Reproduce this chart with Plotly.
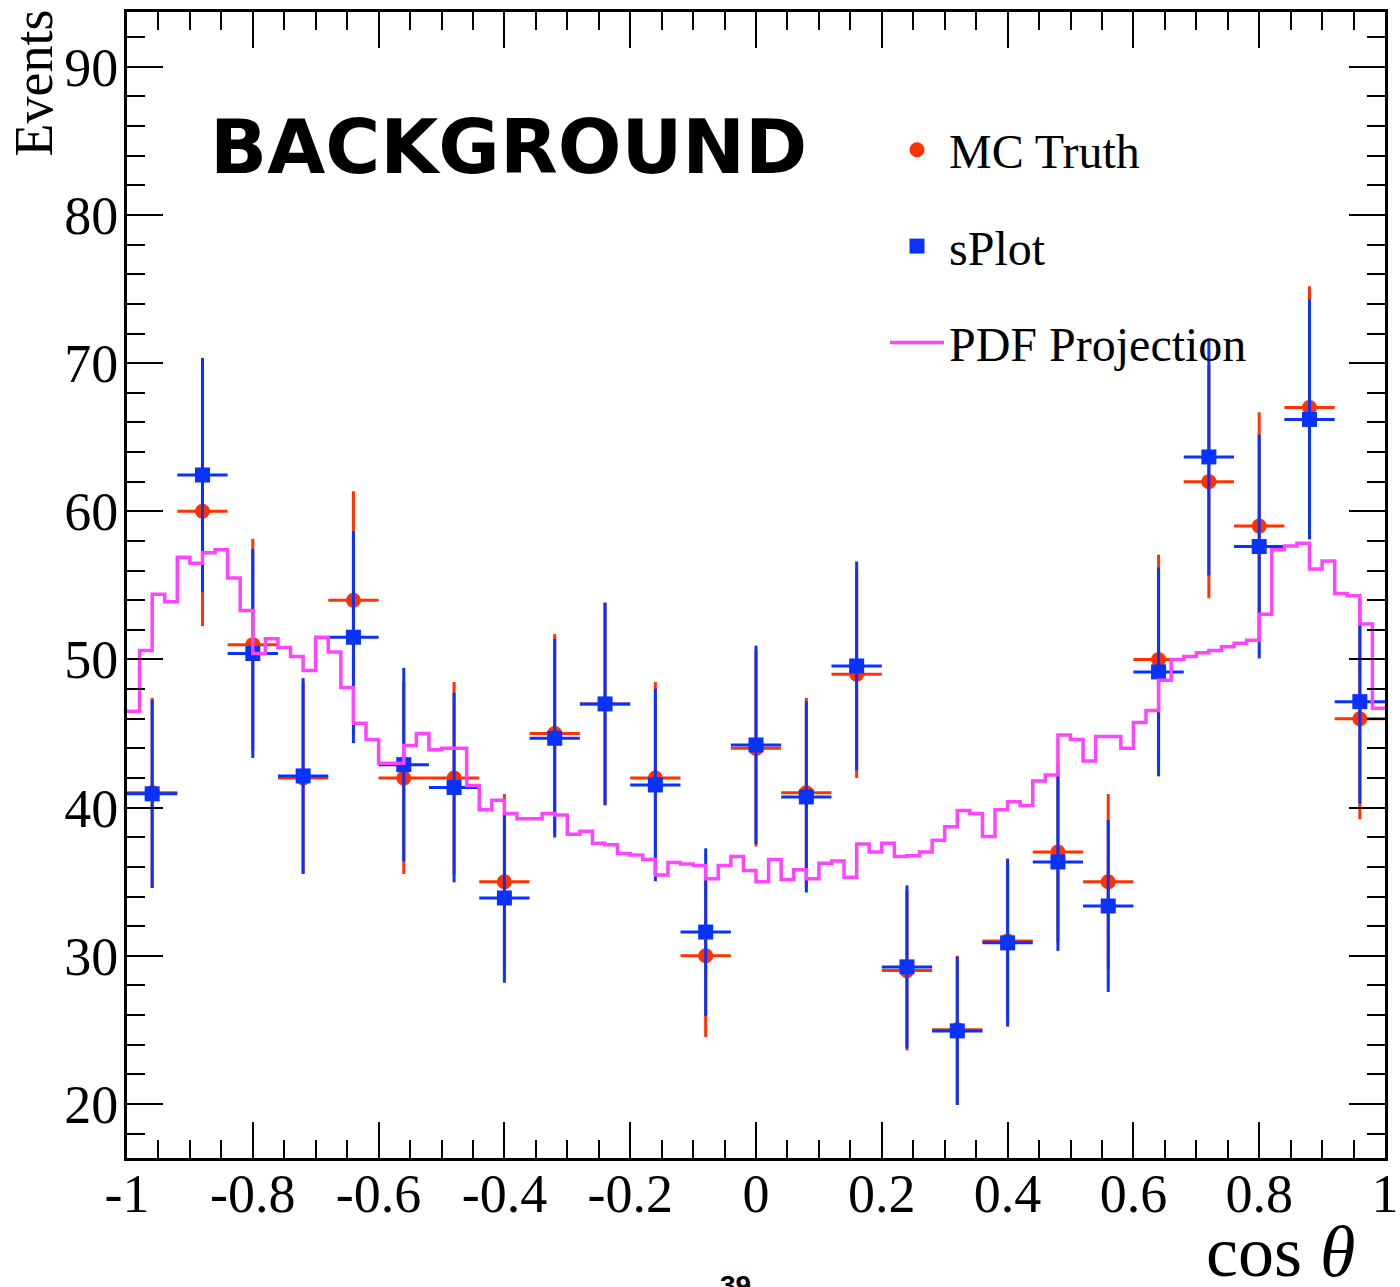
import numpy as np
import plotly.graph_objects as go

# ---------------- data ----------------
bin_centers = [-0.96, -0.88, -0.80, -0.72, -0.64, -0.56, -0.48, -0.40, -0.32,
               -0.24, -0.16, -0.08, 0.00, 0.08, 0.16, 0.24, 0.32, 0.40, 0.48,
               0.56, 0.64, 0.72, 0.80, 0.88, 0.96]
bin_half_width = 0.04

mc_truth = [41, 60, 51, 42, 54, 42, 42, 35, 45, 47, 42, 30, 44, 41, 49, 29,
            25, 31, 37, 35, 50, 62, 59, 67, 46]
mc_truth_err = [6.40, 7.75, 7.14, 6.48, 7.35, 6.48, 6.48, 5.92, 6.71, 6.86,
                6.48, 5.48, 6.63, 6.40, 7.00, 5.39, 5.00, 5.57, 6.08, 5.92,
                7.07, 7.87, 7.68, 8.19, 6.78]

splot = [40.93, 62.45, 50.40, 42.14, 51.50, 42.90, 41.36, 33.90, 44.68, 47.00,
         41.53, 31.60, 44.23, 40.72, 49.56, 29.25, 24.93, 30.87, 36.33, 33.36,
         49.16, 63.67, 57.62, 66.20, 47.15]
splot_err = [6.35, 7.90, 7.05, 6.60, 7.15, 6.53, 6.40, 5.72, 6.70, 6.80,
             6.50, 5.65, 6.70, 6.45, 7.05, 5.50, 5.00, 5.65, 6.00, 5.80,
             7.05, 8.00, 7.55, 8.10, 6.90]

pdf_range = (-1.0, 1.0)
pdf_projection = [
    46.5, 50.6, 54.4, 53.9, 56.9, 56.5, 57.2, 57.4, 55.5, 53.3,
    50.4, 51.4, 50.8, 50.2, 49.25, 51.5, 50.5, 48.1, 45.7, 44.6,
    43.0, 43.0, 44.2, 45.0, 43.9, 44.0, 44.0, 41.5, 39.85, 40.5,
    39.6, 39.25, 39.25, 39.6, 39.5, 38.2, 38.4, 37.6, 37.5, 36.9,
    36.8, 36.5, 35.45, 36.3, 36.2, 36.1, 35.2, 36.1, 36.7, 35.75,
    35.0, 36.5, 35.15, 35.8, 35.2, 36.25, 36.4, 35.3, 37.55, 37.0,
    37.6, 36.7, 36.75, 37.0, 37.8, 38.7, 39.8, 39.6, 38.05, 39.85,
    40.4, 40.15, 41.8, 42.2, 44.9, 44.6, 43.15, 44.8, 44.8, 44.0,
    45.75, 46.55, 48.6, 50.0, 50.2, 50.45, 50.6, 50.85, 51.1, 51.3,
    53.05, 57.4, 57.65, 57.85, 56.1, 56.65, 54.45, 54.3, 52.4, 46.7]

x_tick_vals = [-1, -0.8, -0.6, -0.4, -0.2, 0, 0.2, 0.4, 0.6, 0.8, 1]
x_tick_text = ["-1", "-0.8", "-0.6", "-0.4", "-0.2", "0", "0.2", "0.4",
               "0.6", "0.8", "1"]
y_tick_vals = [20, 30, 40, 50, 60, 70, 80, 90]
y_tick_text = ["20", "30", "40", "50", "60", "70", "80", "90"]

# ---------------- style ----------------
RED = "#ff3300"
BLUE = "#0a32ff"
PINK = "#ff44ff"
SERIF = "Liberation Serif"

fig = go.Figure()

fig.add_trace(go.Scatter(
    x=bin_centers, y=mc_truth, mode="markers", name="MC Truth",
    legendgroup="g1",
    marker=dict(symbol="circle", size=15, color=RED, line=dict(width=0)),
    error_y=dict(type="data", array=mc_truth_err, color=RED, thickness=3, width=0),
    error_x=dict(type="constant", value=bin_half_width, color=RED, thickness=3, width=0),
))

fig.add_trace(go.Scatter(
    x=bin_centers, y=splot, mode="markers", name="sPlot",
    legendgroup="g2",
    marker=dict(symbol="square", size=15, color=BLUE, line=dict(width=0)),
    error_y=dict(type="data", array=splot_err, color=BLUE, thickness=3, width=0),
    error_x=dict(type="constant", value=bin_half_width, color=BLUE, thickness=3, width=0),
))

edges = np.linspace(pdf_range[0], pdf_range[1], len(pdf_projection) + 1)
step_y = list(pdf_projection) + [pdf_projection[-1]]
fig.add_trace(go.Scatter(
    x=edges, y=step_y, mode="lines", name="PDF Projection",
    legendgroup="g3",
    line=dict(shape="hv", color=PINK, width=3.5),
))

W, H = 1400, 1287
ML, MR, MT, MB = 127, 15, 12, 129
PW, PH = W - ML - MR, H - MT - MB


def px_x(p):
    return (p - ML) / PW


def px_y(p):
    return (H - MB - p) / PH


axis_common = dict(
    showline=True, linecolor="black", linewidth=3, mirror="allticks",
    ticks="inside", tickcolor="black", tickwidth=2, ticklen=36,
    showgrid=False, zeroline=False, automargin=False,
    tickfont=dict(family=SERIF, size=54, color="black"),
)

fig.update_layout(
    width=W, height=H,
    margin=dict(l=ML, r=MR, t=MT, b=MB, pad=0),
    paper_bgcolor="white", plot_bgcolor="white",
    xaxis=dict(range=[-1, 1], tickmode="array", tickvals=x_tick_vals,
               ticktext=x_tick_text, ticklabelstandoff=-14,
               minor=dict(dtick=0.05, tick0=0, ticks="inside", ticklen=18,
                          tickwidth=2, tickcolor="black", showgrid=False),
               **axis_common),
    yaxis=dict(range=[16.35, 93.7], tickmode="array", tickvals=y_tick_vals,
               ticktext=y_tick_text, ticklabelstandoff=-5,
               minor=dict(dtick=2, tick0=0, ticks="inside", ticklen=18,
                          tickwidth=2, tickcolor="black", showgrid=False),
               **axis_common),
    showlegend=True,
    legend=dict(
        x=px_x(885), y=px_y(112), xanchor="left", yanchor="top",
        font=dict(family=SERIF, size=48, color="black"),
        bgcolor="rgba(0,0,0,0)", borderwidth=0,
        itemwidth=54, tracegroupgap=31, traceorder="grouped",
    ),
    annotations=[
        dict(text="BACKGROUND", x=px_x(509), y=px_y(147), xref="paper", yref="paper",
             xanchor="center", yanchor="middle", showarrow=False,
             font=dict(family="DejaVu Sans", size=75, color="black", weight=900)),
        dict(text="Events", x=px_x(33), y=px_y(8), xref="paper", yref="paper",
             xanchor="center", yanchor="top", textangle=-90, showarrow=False,
             font=dict(family=SERIF, size=54, color="black")),
        dict(text="cos <i>θ</i>", x=px_x(1357), y=px_y(1252), xref="paper", yref="paper",
             xanchor="right", yanchor="middle", showarrow=False,
             font=dict(family=SERIF, size=72, color="black")),
        dict(text="<b>39</b>", x=px_x(735), y=px_y(1268), xref="paper", yref="paper",
             xanchor="center", yanchor="top", showarrow=False,
             font=dict(family="Liberation Sans", size=28, color="black")),
    ],
)

fig.write_html("out.html")
